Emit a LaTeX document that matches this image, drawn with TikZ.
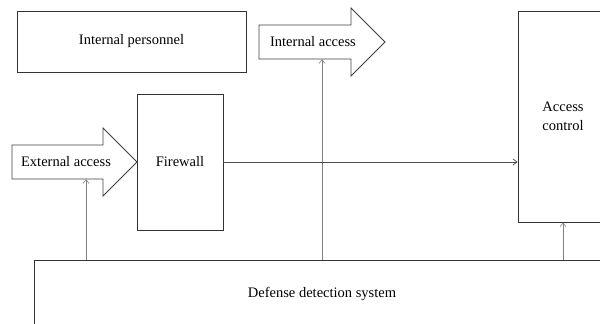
\documentclass[tikz,border=0pt]{standalone}
\usepackage{fontspec}
\setmainfont{Liberation Serif}
\usetikzlibrary{arrows.meta}
\begin{document}
\begin{tikzpicture}[x=1pt,y=-1pt,
  box/.style={draw=black!80,line width=0.8pt,rectangle,inner sep=0pt,align=center,font=\fontsize{14.5}{19}\selectfont},
  bigarrow/.style={draw=black!75,line width=0.8pt,fill=white},
  lbl/.style={inner sep=0pt,font=\fontsize{14.5}{19}\selectfont},
  conn/.style={draw=black!50,line width=0.6pt,-{Straight Barb[length=4pt,width=6pt]}},
  connd/.style={draw=black!70,line width=0.7pt,-{Straight Barb[length=4pt,width=6pt]}}]
\useasboundingbox (0,0) rectangle (600,324);
\begin{scope}
\clip (0,0) rectangle (600,324);
\node[box,minimum width=229pt,minimum height=61pt] (pers) at (131.5,41.5) {Internal personnel};
\node[box,minimum width=86pt,minimum height=136pt] (fw) at (180,162) {Firewall};
\node[box,minimum width=90pt,minimum height=211pt] (ac) at (563,116.5) {Access\\control};
\node[box,minimum width=576pt,minimum height=68pt] (dds) at (322,294) {Defense detection system};
\draw[bigarrow] (12,145) -- (103,145) -- (103,128) -- (137,162) -- (103,196) -- (103,179) -- (12,179) -- cycle;
\node[lbl] (ext) at (66,162) {External access};
\draw[bigarrow] (259,25) -- (351,25) -- (351,8) -- (385,42) -- (351,76) -- (351,59) -- (259,59) -- cycle;
\node[lbl] (int) at (313,42) {Internal access};
\coordinate (extb) at (86,179);
\coordinate (intb) at (322,59);
\draw[conn] (dds.north -| extb) -- (extb);
\draw[conn] (dds.north -| intb) -- (intb);
\draw[conn] (dds.north -| ac.south) -- (ac.south);
\draw[connd] (fw.east) -- (fw.east -| ac.west);
\end{scope}
\end{tikzpicture}
\end{document}
